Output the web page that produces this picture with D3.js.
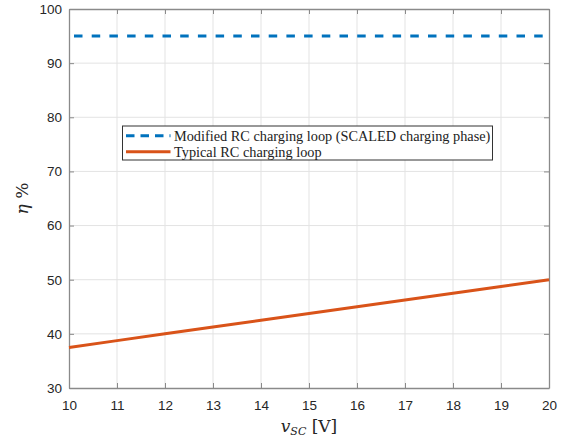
<!DOCTYPE html>
<html>
<head>
<meta charset="utf-8">
<script src="https://cdn.jsdelivr.net/npm/d3@7"></script>
<style>
  html, body { margin: 0; padding: 0; background: #fff; }
  svg { display: block; }
</style>
</head>
<body>
<svg id="chart" width="570" height="439"></svg>
<script>
// Supply voltage samples (V)
const vsc = [10, 11, 12, 13, 14, 15, 16, 17, 18, 19, 20];
// Efficiency (%) of the modified loop with scaled charging phase
const etaModified = [95, 95, 95, 95, 95, 95, 95, 95, 95, 95, 95];
// Efficiency (%) of the typical RC charging loop
const etaTypical = [37.5, 38.75, 40, 41.25, 42.5, 43.75, 45, 46.25, 47.5, 48.75, 50];

const xTicks = [10, 11, 12, 13, 14, 15, 16, 17, 18, 19, 20];
const yTicks = [30, 40, 50, 60, 70, 80, 90, 100];

const seriesNames = [
  "Modified RC charging loop (SCALED charging phase)",
  "Typical RC charging loop"
];
const seriesColors = ["#0072BD", "#D95319"];

const margin = { left: 69, right: 21, top: 9, bottom: 51 };
const W = 570, H = 439;
const svg = d3.select("#chart");

const x = d3.scaleLinear().domain([10, 20]).range([margin.left, W - margin.right]);
const y = d3.scaleLinear().domain([30, 100]).range([H - margin.bottom, margin.top]);

const axisColor = "#8a8a8a";
const gridColor = "#e3e3e3";
const tickFont = "'Liberation Sans', Arial, sans-serif";

// grid
const grid = svg.append("g");
grid.selectAll("line.gx").data(xTicks.slice(1, -1)).join("line")
  .attr("x1", d => x(d)).attr("x2", d => x(d))
  .attr("y1", y(30)).attr("y2", y(100))
  .attr("stroke", gridColor).attr("stroke-width", 1);
grid.selectAll("line.gy").data(yTicks.slice(1, -1)).join("line")
  .attr("y1", d => y(d)).attr("y2", d => y(d))
  .attr("x1", x(10)).attr("x2", x(20))
  .attr("stroke", gridColor).attr("stroke-width", 1);

// axes: bottom/left with labels, top/right as box with inner ticks
function styleAxis(g) {
  g.select(".domain").attr("stroke", axisColor).attr("stroke-width", 1.3);
  g.selectAll(".tick line").attr("stroke", axisColor).attr("stroke-width", 1);
  g.selectAll(".tick text").attr("fill", "#262626")
    .style("font-family", tickFont).style("font-size", "13.5px");
}
svg.append("g").attr("transform", `translate(0,${y(30)})`)
  .call(d3.axisBottom(x).tickValues(xTicks).tickSize(-5).tickPadding(12).tickSizeOuter(0))
  .call(styleAxis);
svg.append("g").attr("transform", `translate(${x(10)},0)`)
  .call(d3.axisLeft(y).tickValues(yTicks).tickSize(-5).tickPadding(7).tickSizeOuter(0))
  .call(styleAxis);
svg.append("g").attr("transform", `translate(0,${y(100)})`)
  .call(d3.axisTop(x).tickValues(xTicks).tickSize(-5).tickFormat("").tickSizeOuter(0))
  .call(styleAxis);
svg.append("g").attr("transform", `translate(${x(20)},0)`)
  .call(d3.axisRight(y).tickValues(yTicks).tickSize(-5).tickFormat("").tickSizeOuter(0))
  .call(styleAxis);

// series
const line = d3.line().x(d => x(d[0])).y(d => y(d[1]));
svg.append("path")
  .datum(vsc.map((v, i) => [v, etaTypical[i]]))
  .attr("d", line).attr("fill", "none")
  .attr("stroke", seriesColors[1]).attr("stroke-width", 3);
svg.append("path")
  .datum(vsc.map((v, i) => [v, etaModified[i]]))
  .attr("d", line).attr("fill", "none")
  .attr("stroke", seriesColors[0]).attr("stroke-width", 3)
  .attr("stroke-dasharray", "8.5,9.2").attr("stroke-dashoffset", 12.7);

// legend
const lg = svg.append("g").attr("transform", "translate(122.5,126)");
lg.append("rect").attr("width", 370).attr("height", 34)
  .attr("fill", "#fff").attr("stroke", "#333").attr("stroke-width", 1);
const rows = [
  { name: seriesNames[0], color: seriesColors[0], dash: "8.5,6" },
  { name: seriesNames[1], color: seriesColors[1], dash: null }
];
rows.forEach((r, i) => {
  const yy = 9.7 + i * 16;
  lg.append("line").attr("x1", 3.5).attr("x2", 48).attr("y1", yy).attr("y2", yy)
    .attr("stroke", r.color).attr("stroke-width", 3)
    .attr("stroke-dasharray", r.dash);
  lg.append("text").attr("x", 51.5).attr("y", yy + 4.8)
    .attr("fill", "#222")
    .style("font-family", "'Liberation Serif', 'Times New Roman', serif")
    .style("font-size", "14.3px")
    .text(r.name);
});

// axis titles
const serif = "'DejaVu Serif', 'Liberation Serif', serif";
const xl = svg.append("text").attr("x", x(15)).attr("y", 432)
  .attr("text-anchor", "middle").attr("fill", "#262626")
  .style("font-family", serif).style("font-size", "17px");
xl.append("tspan").style("font-style", "italic").text("v");
xl.append("tspan").attr("dy", 3).style("font-size", "11px").style("font-style", "italic").text("SC");
xl.append("tspan").attr("dy", -3).text(" [V]");

const yl = svg.append("text")
  .attr("transform", `translate(28,${y(65)}) rotate(-90)`)
  .attr("text-anchor", "middle").attr("fill", "#262626")
  .style("font-family", serif).style("font-size", "17px");
yl.append("tspan").style("font-style", "italic").text("η");
yl.append("tspan").text(" %");
</script>
</body>
</html>
